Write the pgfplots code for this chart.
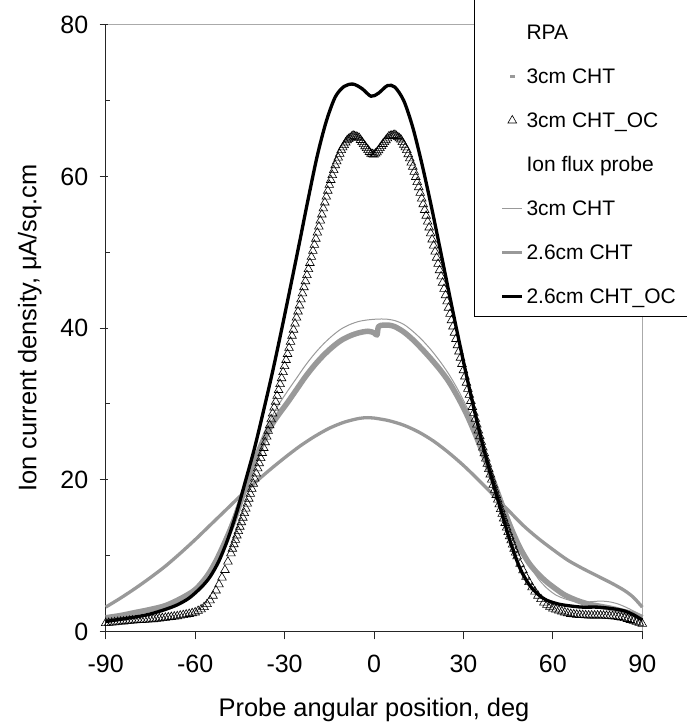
\documentclass[border=0pt]{standalone}
\usepackage{pgfplots}
\pgfplotsset{compat=1.18}
\usepackage{fontspec}
\setmainfont{Liberation Sans}
\definecolor{lgray}{RGB}{153,153,153}
\definecolor{fgray}{RGB}{170,170,170}
\begin{document}
\begin{tikzpicture}[x=1pt,y=1pt]
\useasboundingbox (-105.7,-96.6) rectangle (580.3,631.4);
\begin{axis}[
  at={(0,0)}, anchor=south west,
  scale only axis, width=536.6pt, height=606.4pt,
  xmin=-90, xmax=90, ymin=0, ymax=80,
  clip=false,
  axis x line*=bottom, axis y line*=left,
  axis line style={line width=1pt, black!85},
  axis background/.style={draw=fgray, line width=1pt},
  xtick={-90,-60,...,90},
  ytick={0,20,40,60,80}, minor ytick={10,30,50,70},
  tick align=outside,
  major tick length=8pt, minor tick length=4pt,
  tick style={line width=1pt, black!85},
  minor y tick style={xshift=4pt},
  major y tick style={xshift=2pt},
  /pgf/number format/assume math mode=true,
  ticklabel style={font=\fontsize{25pt}{29pt}\selectfont},
  xticklabel style={yshift=-12pt},
  yticklabel style={xshift=-6pt},
  xlabel={Probe angular position, deg},
  ylabel={Ion current density, μA/sq.cm},
  x label style={font=\fontsize{25.4pt}{30pt}\selectfont, at={(axis description cs:0.5,-0.1402)}, anchor=base},
  y label style={font=\fontsize{25.4pt}{30pt}\selectfont, at={(axis description cs:-0.1416,0.5)}, anchor=center, rotate=0},
  legend style={at={(rel axis cs:0.6864,1.0858)}, anchor=north west,
    draw=black, line width=1pt, fill=white, inner sep=7.5pt,
    row sep=24pt, column sep=1pt,
    font=\fontsize{21pt}{25pt}\selectfont,
    nodes={inner sep=0pt, text height=15pt, text depth=5pt}},
  legend cell align=left,
  legend image code/.code={\path (0pt,0pt) (38pt,0pt);
    \draw[mark repeat=2,mark phase=2,#1] plot coordinates {(17.5pt,2.5pt) (27.5pt,2.5pt) (37.5pt,2.5pt)};},
]
\addlegendimage{empty legend}\addlegendentry{}
\addlegendimage{empty legend}\addlegendentry{RPA}
% RPA 3cm CHT
\addplot[lgray, line width=5.5pt, smooth, line join=round,
  legend image code/.code={\path (0pt,0pt) (38pt,0pt); \path[fill=lgray, draw=none] (25pt,1pt) rectangle (30pt,4pt);}]
coordinates {(-90,1.8) (-85,2.1) (-80,2.5) (-75,2.9) (-70,3.4) (-65,4.3) (-60,5.5) (-56,7.3) (-53,9.3) (-50,11.8) (-47,14.6) (-44,18.0) (-41,21.5) (-38,24.3) (-35,26.8) (-32,28.6) (-29,30.2) (-26,31.9) (-23,33.6) (-20,35.1) (-17,36.4) (-14,37.5) (-11,38.4) (-8,39.0) (-5,39.4) (-2,39.6) (0,39.4) (1,39.1) (1.5,40.2) (3,40.4) (5,40.4) (7,40.2) (10,39.5) (13,38.5) (16,37.3) (19,36.0) (22,34.6) (25,33.0) (28,31.0) (31,28.7) (34,26.0) (37,23.0) (40,19.8) (43,16.6) (46,13.6) (49,11.0) (52,9.0) (55,7.6) (58,6.5) (61,5.6) (64,4.8) (68,4.1) (72,3.6) (76,3.3) (80,3.0) (84,2.6) (87,2.3) (90,1.8)};
\addlegendentry{3cm CHT}
% RPA 3cm CHT_OC
\addplot[only marks, mark=triangle, mark size=5pt, mark options={draw=black, fill=white, line width=0.6pt}]
coordinates {(-90,1.1) (-89,1.12) (-88,1.15) (-87,1.2) (-86,1.25) (-85,1.28) (-84,1.3) (-83,1.35) (-82,1.4) (-81,1.43) (-80,1.45) (-79,1.48) (-78,1.5) (-77,1.53) (-76,1.55) (-75,1.58) (-74,1.6) (-73,1.65) (-72,1.7) (-71,1.75) (-70,1.8) (-69,1.85) (-68,1.9) (-67,1.95) (-66,2.0) (-65,2.08) (-64,2.15) (-63,2.22) (-62,2.3) (-61,2.4) (-60,2.5) (-59,2.7) (-58,2.9) (-57,3.2) (-56,3.6) (-55,4.1) (-54,4.7) (-53,5.4) (-52,6.2) (-51,7.1) (-50,8.1) (-49,9.2) (-48,10.3) (-47.5,10.9) (-47,11.5) (-46.5,12.08) (-46,12.65) (-45.5,13.23) (-45,13.8) (-44.5,14.4) (-44,15.0) (-43.5,15.6) (-43,16.2) (-42.5,16.85) (-42,17.5) (-41.5,18.15) (-41,18.8) (-40.5,19.48) (-40,20.15) (-39.5,20.83) (-39,21.5) (-38.5,22.18) (-38,22.85) (-37.5,23.53) (-37,24.2) (-36.5,24.95) (-36,25.7) (-35.5,26.45) (-35,27.2) (-34.5,27.98) (-34,28.75) (-33.5,29.53) (-33,30.3) (-32.5,31.08) (-32,31.85) (-31.5,32.63) (-31,33.4) (-30.5,34.2) (-30,35.0) (-29.5,35.8) (-29,36.6) (-28.5,37.4) (-28,38.2) (-27.5,39.0) (-27,39.8) (-26.5,40.6) (-26,41.4) (-25.5,42.2) (-25,43.0) (-24.5,43.8) (-24,44.6) (-23.5,45.4) (-23,46.2) (-22.5,47.0) (-22,47.8) (-21.5,48.6) (-21,49.4) (-20.5,50.2) (-20,51.0) (-19.5,51.8) (-19,52.6) (-18.5,53.4) (-18,54.2) (-17.5,55.0) (-17,55.8) (-16.5,56.58) (-16,57.35) (-15.5,58.13) (-15,58.9) (-14.5,59.55) (-14,60.2) (-13.5,60.85) (-13,61.5) (-12.5,62.0) (-12,62.5) (-11.5,63.0) (-11,63.5) (-10.5,63.85) (-10,64.15) (-9.5,64.5) (-9,64.8) (-8.5,64.95) (-8,65.1) (-7.5,65.25) (-7,65.4) (-6.5,65.33) (-6,65.25) (-5.5,65.18) (-5,65.1) (-4.5,64.83) (-4,64.55) (-3.5,64.28) (-3,64.0) (-2.5,63.75) (-2,63.5) (-1.5,63.25) (-1,63.0) (-0.5,62.95) (0,62.9) (0.5,63.05) (1,63.2) (1.5,63.48) (2,63.75) (2.5,64.03) (3,64.3) (3.5,64.55) (4,64.8) (4.5,65.05) (5,65.3) (5.5,65.35) (6,65.4) (6.5,65.45) (7,65.5) (7.5,65.35) (8,65.2) (8.5,65.05) (9,64.9) (9.5,64.55) (10,64.2) (10.5,63.85) (11,63.5) (11.5,62.95) (12,62.4) (12.5,61.85) (13,61.3) (13.5,60.63) (14,59.95) (14.5,59.28) (15,58.6) (15.5,57.85) (16,57.1) (16.5,56.35) (17,55.6) (17.5,54.83) (18,54.05) (18.5,53.28) (19,52.5) (19.5,51.7) (20,50.9) (20.5,50.1) (21,49.3) (21.5,48.48) (22,47.65) (22.5,46.83) (23,46.0) (23.5,45.18) (24,44.35) (24.5,43.53) (25,42.7) (25.5,41.88) (26,41.05) (26.5,40.23) (27,39.4) (27.5,38.58) (28,37.75) (28.5,36.93) (29,36.1) (29.5,35.28) (30,34.45) (30.5,33.63) (31,32.8) (31.5,32.0) (32,31.2) (32.5,30.4) (33,29.6) (33.5,28.83) (34,28.05) (34.5,27.28) (35,26.5) (35.5,25.75) (36,25.0) (36.5,24.25) (37,23.5) (37.5,22.8) (38,22.1) (38.5,21.4) (39,20.7) (39.5,20.03) (40,19.35) (40.5,18.68) (41,18.0) (41.5,17.38) (42,16.75) (42.5,16.13) (43,15.5) (43.5,14.9) (44,14.3) (44.5,13.7) (45,13.1) (45.5,12.55) (46,12.0) (46.5,11.45) (47,10.9) (47.5,10.4) (48,9.9) (49,8.9) (50,8.05) (51,7.2) (52,6.5) (53,5.8) (54,5.25) (55,4.7) (56,4.25) (57,3.8) (58,3.5) (59,3.25) (60,3.0) (61,2.88) (62,2.75) (63,2.62) (64,2.5) (65,2.4) (66,2.3) (67,2.25) (68,2.2) (69,2.17) (70,2.15) (71,2.12) (72,2.1) (73,2.1) (74,2.1) (75,2.1) (76,2.1) (77,2.08) (78,2.05) (79,2.02) (80,2.0) (81,1.95) (82,1.9) (83,1.83) (84,1.75) (85,1.63) (86,1.5) (87,1.38) (88,1.25) (89,1.12) (90,1.0)};
\addlegendentry{3cm CHT\_OC}
\addlegendimage{empty legend}\addlegendentry{Ion flux probe}
% Flux 3cm CHT
\addplot[lgray, line width=1pt, smooth]
coordinates {(-90,1.6) (-85,1.9) (-80,2.3) (-75,2.8) (-70,3.4) (-65,4.4) (-60,5.8) (-56,7.7) (-53,9.8) (-50,12.4) (-47,15.4) (-44,18.8) (-41,22.2) (-38,25.2) (-35,27.8) (-32,29.9) (-29,31.7) (-26,33.4) (-23,35.1) (-20,36.6) (-17,37.9) (-14,39.0) (-11,39.9) (-8,40.5) (-5,40.9) (-2,41.1) (1,41.2) (4,41.2) (7,41.0) (10,40.5) (13,39.6) (16,38.5) (19,37.2) (22,35.7) (25,34.0) (28,32.0) (31,29.7) (34,27.1) (37,24.1) (40,20.8) (43,17.5) (46,14.3) (49,11.4) (52,8.9) (55,7.0) (58,5.7) (61,4.8) (64,4.3) (68,3.9) (72,3.9) (76,4.0) (79,3.9) (82,3.6) (85,3.1) (88,2.5) (90,2.1)};
\addlegendentry{3cm CHT}
% Flux 2.6cm CHT
\addplot[lgray, line width=3.3pt, smooth]
coordinates {(-90,3.2) (-85,4.4) (-80,5.7) (-75,7.1) (-70,8.6) (-65,10.3) (-60,12.1) (-55,14.0) (-50,15.9) (-45,17.8) (-40,19.6) (-35,21.3) (-30,22.9) (-25,24.4) (-20,25.7) (-15,26.8) (-10,27.6) (-5,28.1) (-2,28.2) (0,28.15) (5,27.8) (10,27.2) (15,26.3) (20,25.1) (25,23.6) (30,21.9) (35,20.0) (40,18.0) (45,16.0) (50,14.0) (55,12.3) (60,10.8) (65,9.4) (70,8.3) (75,7.3) (80,6.3) (84,5.4) (87,4.5) (90,3.2)};
\addlegendentry{2.6cm CHT}
% Flux 2.6cm CHT_OC
\addplot[black, line width=3.3pt, smooth]
coordinates {(-90,1.3) (-85,1.6) (-80,1.9) (-75,2.3) (-70,2.9) (-66,3.5) (-62,4.4) (-58,5.8) (-55,7.2) (-52,9.3) (-49,12.2) (-46,15.8) (-43,20.0) (-40,24.3) (-37,29.2) (-34,34.3) (-31,39.8) (-28,45.5) (-25,51.3) (-22,57.2) (-19,62.8) (-16,67.3) (-13,70.5) (-10,71.9) (-7,72.2) (-4,71.6) (-1,70.6) (1.5,71.0) (4.5,72.0) (7,71.8) (10,70.0) (13,66.5) (16,61.8) (19,56.5) (22,50.8) (25,45.0) (28,39.3) (31,33.8) (34,28.6) (37,23.8) (40,19.5) (43,15.4) (46,11.5) (49,8.3) (52,6.2) (55,4.9) (58,4.1) (62,3.6) (66,3.35) (70,3.2) (75,3.2) (80,3.0) (84,2.7) (87,2.2) (90,1.5)};
\addlegendentry{2.6cm CHT\_OC\hspace*{40pt}}
\end{axis}
\end{tikzpicture}
\end{document}
